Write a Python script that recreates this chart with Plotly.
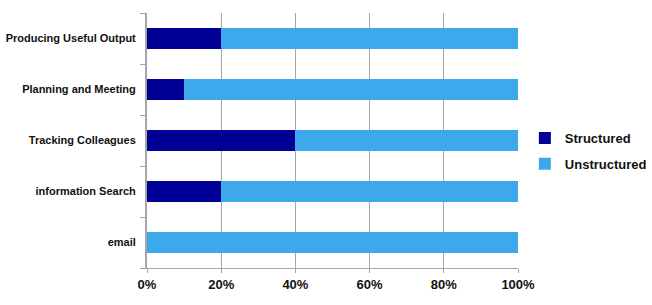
import plotly.graph_objects as go

categories = ["email", "information Search", "Tracking Colleagues",
              "Planning and Meeting", "Producing Useful Output"]
structured = [0, 20, 40, 10, 20]
unstructured = [100, 80, 60, 90, 80]
x_ticks = [0, 20, 40, 60, 80, 100]
x_tick_labels = ["0%", "20%", "40%", "60%", "80%", "100%"]

fig = go.Figure()
fig.add_trace(go.Bar(y=categories, x=structured, orientation="h", name="Structured",
                     legendgroup="s",
                     marker=dict(color="#000096", line=dict(width=0))))
fig.add_trace(go.Bar(y=categories, x=unstructured, orientation="h", name="Unstructured",
                     legendgroup="u",
                     marker=dict(color="#3DA8EC", line=dict(width=0))))

fig.update_layout(
    barmode="stack",
    bargap=0.57,
    width=652, height=305,
    margin=dict(l=147, r=134, t=13, b=37, autoexpand=False),
    plot_bgcolor="white", paper_bgcolor="white",
    font=dict(family="Liberation Sans, Arial, sans-serif", color="#111111"),
    legend=dict(xref="container", yref="container", x=0.805, y=0.505,
                xanchor="left", yanchor="middle", traceorder="grouped",
                font=dict(size=13, weight="bold"),
                tracegroupgap=6, itemwidth=30, bgcolor="rgba(0,0,0,0)"),
    showlegend=True,
)
fig.update_xaxes(range=[0, 100], tickvals=x_ticks, ticktext=x_tick_labels,
                 showgrid=True, gridcolor="#A6A6A6", gridwidth=1,
                 showline=True, linecolor="#A6A6A6", linewidth=1,
                 ticks="outside", ticklen=4, tickcolor="#A6A6A6", automargin=False,
                 tickfont=dict(size=13, weight="bold"), zeroline=False)
fig.update_yaxes(showline=True, linecolor="#A6A6A6", linewidth=2, automargin=False,
                 ticks="outside", tickson="boundaries", ticklen=5, tickcolor="#A6A6A6",
                 ticklabelstandoff=7,
                 tickfont=dict(size=11, weight="bold"),
                 showgrid=False, range=[-0.5, 4.5])

fig.write_html("out.html")
